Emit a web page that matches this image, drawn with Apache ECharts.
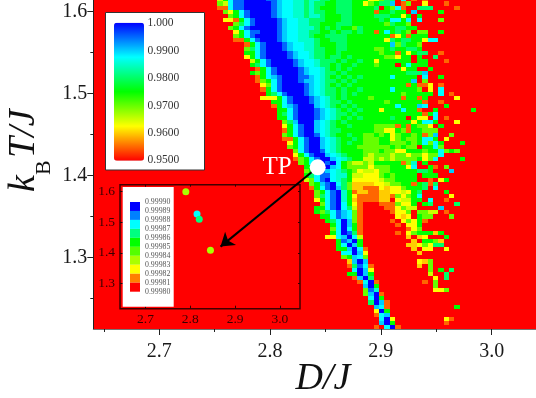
<!DOCTYPE html>
<html><head><meta charset="utf-8">
<style>html,body{margin:0;padding:0;background:#fff}#c{width:536px;height:398px}</style>
<script src="https://cdn.jsdelivr.net/npm/echarts@6/dist/echarts.min.js"></script>
</head><body><div id="c"></div>
<script>
const SERIF = '"Liberation Serif","Times New Roman",serif';
// heat rows from T=1.615 downward; each char is a colour reading of one cell
const firstT = 1.615, rowStep = 0.005, firstD = 2.7402, colStep = 0.004865;
const levelValues = {0:.95,1:.955,2:.96,y:.9625,3:.965,4:.97,5:.975,6:.98,7:.985,c:.9875,8:.99,9:.995,a:1};
const heatRows = [
"00035c99aa aa998cc776 7766566655 5yy4660c01 0100000000",
"00043c99aa aaa98cc776 7665566655 y456680140 0y00010000",
"00011c99aa aaa98cc776 7655566655 556054c100 6660000100",
"00004y5c9a aaa98cc776 7665566655 5515565508 0000500000",
"0000045c9a aaa98cc776 7765556655 5566655y50 5000000000",
"0000yy15c9 aaaa98cc77 6665556655 55565cc5c0 c000400000",
"00000046c9 aaaa98cc77 6655566655 5555465540 0000000000",
"0000045c9a aaaa98cc77 7656565546 5555556655 0000000000",
"000000y5c9 9aaa98cc77 6655656656 5515c56540 4400500000",
"00000045c9 aaaa98cc77 6556666555 555551y515 5500000000",
"000000115c 9aaa98cc77 7655666555 5555y65665 5ycc000000",
"0000000015 c9aaa98cc7 7655566555 5555584655 4000000000",
"0000000046 c9aaa98cc7 7665566555 5544565566 5000000000",
"0000000055 c9aaaa98cc 7665565555 55545515y5 6600100000",
"00000000y5 c9aaaa98cc 7665665655 555544y550 5006000000",
"0000000003 5c9aaaa98c c766656556 55y5555550 5500010000",
"0000000005 6c9aaaa98c c766565565 55455505c5 5500000000",
"0000000000 15c9aaaa98 cc76565655 5555555y55 0050000000",
"0000000005 45c9aaaa98 cc76656555 5555555566 6800000000",
"0000000000 15c89aaa99 8c76565656 55555c5555 0c00500000",
"0000000000 145c9aaa98 8c76656565 5555555558 0400000000",
"0000000000 0y4c9aaaa9 8c76565655 5555555515 11y0100000",
"0000000000 015c9aaaa9 8c76656556 55555c5555 40y0c00000",
"0000000000 0056c9aaa9 8c76656565 5555555455 5550c01000",
"0000000000 0yyy5c9aaa 98c7656555 5455555155 1500000y00",
"0000000000 00055c9aaa 98c7665655 5555455555 5100100000",
"0000000000 00015c89aa a8c7656565 555555c555 8c00050000",
"0000000000 000055c9aa a98c765656 555y555c55 1005000000 5",
"0000000000 000056c9aa a98c766565 5555555555 515c000000",
"0000000000 000055c9aa a98c765656 5555565505 yy0c010000",
"0000000000 00000468aa a8c7656555 555555555y 5cc5000y00",
"0000000000 00000y5c9a a8c7655655 5544441515 44y0500000",
"0000000000 0000015c9a a8c7665555 5544yy5415 5444000000",
"0000000000 0000045c9a a9c7655655 44545y4554 5148004000",
"0000000000 00000115c9 aa8c765565 44455y4544 5cc50y0000",
"0000000000 000000y5c9 aa8c765655 4445544454 5c4c500050",
"0000000000 00000045c9 aa8c765554 4444454544 055c400000",
"0000000000 00000004c9 aa9c765555 444544yy55 5455c45400",
"0000000000 0000000y5c 9aa8c76555 43444344y4 4y44c00000",
"0000000000 0000000145 c9aa8c7655 3343434444 5y4c000050",
"0000000000 0000000045 c9a9ac5433 4355555147 0500000000",
"0000000000 0000000005 5c9a8c5444 4y444555yc 0051040000",
"0000000000 0000000004 5898c7654y 33y4455555 6650008000",
"0000000000 0000000005 6c99c77533 yyy4545555 0555000000",
"0000000000 0000000003 4c9ac765yy yyy3445555 0010y50000",
"0000000000 0000000000 4589ac6422 22yy344551 5616000000",
"0000000000 0000000000 15c9a86422 111y2yy455 560c000000",
"0000000000 0000000000 045c9a7512 21122yy3y5 6000050000",
"0000000000 0000000000 046c9a75y1 1112214y45 c00000y000",
"0000000000 0000000000 0y5c9a7521 111220y335 50c0010000",
"0000000000 0000000000 004c9ac5y1 0001114yy5 0560000600",
"0000000000 0000000000 055c9ac631 000011y433 0000800000",
"0000000000 0000000000 0546c98c41 000001yy40 4433010000",
"0000000000 0000000000 0055c98c41 000000y2y0 5440004000",
"0000000000 0000000000 00056ca841 0000010y4y 5100000000",
"0000000000 0000000000 00005ca851 00000010yy 5000000000",
"0000000000 0000000000 00004cac51 000000001y 4000000000",
"0000000000 0000000000 00005ca961 00000010y4 5552500000",
"0000000000 0000000000 000yyc8ac3 0000000020 2y00050000",
"0000000000 0000000000 00000598a5 0000000002 0554200000",
"0000000000 0000000000 000005ca85 0000000022 y4y6600000",
"0000000000 0000000000 00000558ac 1000000002 0yy00y0000",
"0000000000 0000000000 000000cca8 y000000000 2000000000",
"0000000000 0000000000 000000458c 4000000000 0000000000",
"0000000000 0000000000 000000028a 8000000000 y240000000",
"0000000000 0000000000 0000000169 c100000000 2040000000",
"0000000000 0000000000 00000000ca 8y00000000 0040506000",
"0000000000 0000000000 000000055a 8500000000 0030060000",
"0000000000 0000000000 0000000018 a600000000 000y060000",
"0000000000 0000000000 0000000001 ca10000000 0104000000",
"0000000000 0000000000 0000000000 8a50000000 0004000000",
"0000000000 0000000000 0000000000 4970000000 000yy40000",
"0000000000 0000000000 0000000000 48a1000000",
"0000000000 0000000000 0000000000 0ca5000000",
"0000000000 0000000000 0000000000 06a8100000",
"0000000000 0000000000 0000000000 008c100000 0000000500",
"0000000000 0000000000 0000000000 00ya500000",
"0000000000 0000000000 0000000000 001c800000",
"0000000000 0000000000 0000000000 000cay0000 00000y1000",
"0000000000 0000000000 0000000000 0008a50000 0000010000",
"0000000000 0000000000 0000000000 0010ca1000"
];
const xMajor = [2.7,2.8,2.9,3.0], xMinor = [2.65,2.75,2.85,2.95,3.05];
const yMajor = [1.3,1.4,1.5,1.6], yMinor = [1.25,1.35,1.45,1.55];
const rampColors = ['#ff0000','#ffff00','#00ff00','#00ffff','#0000ff'];
const legendLabels = ['1.000','0.9900','0.9800','0.9700','0.9600','0.9500'];
const tpPoint = [2.843,1.41];
const arrowTip = [2.7553,1.3132];
const insetPoints = [[2.79,1.6,'#aaff00'],[2.815,1.527,'#00ffff'],[2.82,1.51,'#00ff80'],[2.845,1.408,'#aaff00']];
const insetLegendLabels = ['0.99990','0.99989','0.99988','0.99987','0.99986','0.99985','0.99984','0.99983','0.99982','0.99981','0.99980'];
const insetLegendColors = ['#0000ff','#0080ff','#00ffff','#00ff80','#00ff00','#55ff00','#aaff00','#ffff00','#ff8000','#ff0000'];

const cells = [];
heatRows.forEach((row,r)=>{
  row.replace(/ /g,'').split('').forEach((ch,p)=>{
    if(ch!=='0') cells.push([firstD+colStep*p, firstT-rowStep*r, levelValues[ch]]);
  });
});
const chart = echarts.init(document.getElementById('c'),null,{renderer:'canvas'});
const tickLabel = {fontFamily:SERIF,fontSize:20,color:'#1a1a1a'};
const insetLabel = {fontFamily:SERIF,fontSize:13.5,color:'#3a0000'};
const gfx = [];
gfx.push({type:'rect',z:3,shape:{x:105.5,y:12.5,width:99,height:157.5},style:{fill:'#fff',stroke:'#333',lineWidth:1}});
legendLabels.forEach((t,i)=>gfx.push({type:'text',z:5,x:147.5,y:23.3+i*27.4,style:{text:t,font:'11.5px '+SERIF,fill:'#333',verticalAlign:'middle'}}));
gfx.push({type:'rect',z:3,shape:{x:122.7,y:187,width:51,height:119.7},style:{fill:'#fff'}});
insetLegendColors.forEach((c,i)=>gfx.push({type:'rect',z:4,shape:{x:130,y:202+i*8.97,width:10,height:8.97},style:{fill:c}}));
insetLegendLabels.forEach((t,i)=>gfx.push({type:'text',z:5,x:145,y:202+i*8.97,style:{text:t,font:'7.8px '+SERIF,fill:'#555',verticalAlign:'middle'}}));
const titleItalic = (t,x,y)=>({type:'text',z:5,x:x,y:y,rotation:Math.PI/2,style:{text:t,font:'italic 38px '+SERIF,fill:'#111',align:'left',verticalAlign:'middle'}});
gfx.push(titleItalic('k',24,192));
gfx.push({type:'text',z:5,x:44,y:175,rotation:Math.PI/2,style:{text:'B',font:'22px '+SERIF,fill:'#111',align:'left',verticalAlign:'middle'}});
gfx.push(titleItalic('T/J',24,158));
gfx.push({type:'text',z:5,x:323,y:379,style:{text:'D/J',font:'italic 38px '+SERIF,fill:'#111',align:'center',verticalAlign:'middle'}});

const mainX={min:2.6405,max:3.04}, mainY={min:1.2126,max:1.6143};
const insX={min:2.643,max:3.045}, insY={min:1.217,max:1.623};
const inTick=(vals,len)=>({show:true,inside:true,length:len,customValues:vals,lineStyle:{color:'#300',width:1}});
chart.setOption({
  animation:false,
  backgroundColor:'#fff',
  graphic:{elements:gfx},
  grid:[
    {left:93.3,top:0,right:0,height:329,show:true,backgroundColor:'#ff0000',borderWidth:0},
    {left:120,top:184.7,width:180,height:124,show:true,backgroundColor:'#ff0000',borderColor:'#400000',borderWidth:1.5}
  ],
  visualMap:{type:'continuous',seriesIndex:0,dimension:2,min:0.95,max:1,left:114,top:22.7,itemWidth:30,itemHeight:138,calculable:false,realtime:false,text:null,showLabel:false,
    inRange:{color:rampColors.slice()},textStyle:{fontSize:0,color:'transparent'},padding:0,z:4,hoverLink:false},
  xAxis:[
    Object.assign({type:'value',gridIndex:0,position:'bottom',splitLine:{show:false},axisLine:{show:true,onZero:false,lineStyle:{color:'#777',width:1}},
      axisTick:{show:true,length:6,customValues:xMajor,lineStyle:{color:'#222'}},axisLabel:Object.assign({customValues:xMajor,margin:13,formatter:v=>v.toFixed(1)},tickLabel)},mainX),
    Object.assign({type:'value',gridIndex:0,position:'bottom',splitLine:{show:false},axisLine:{show:false,onZero:false},
      axisTick:{show:true,length:3,customValues:xMinor,lineStyle:{color:'#222'}},axisLabel:{show:false}},mainX),
    Object.assign({type:'value',gridIndex:1,position:'bottom',splitLine:{show:false},axisLine:{show:false,onZero:false},
      axisTick:inTick(xMajor,3),axisLabel:Object.assign({customValues:xMajor,margin:4,formatter:v=>v.toFixed(1)},insetLabel)},insX),
    Object.assign({type:'value',gridIndex:1,position:'top',splitLine:{show:false},axisLine:{show:false,onZero:false},
      axisTick:inTick(xMajor,2),axisLabel:{show:false}},insX)
  ],
  yAxis:[
    Object.assign({type:'value',gridIndex:0,position:'left',splitLine:{show:false},axisLine:{show:true,onZero:false,lineStyle:{color:'#222',width:1}},
      axisTick:{show:true,length:6,customValues:yMajor,lineStyle:{color:'#222'}},axisLabel:Object.assign({customValues:yMajor,margin:6,formatter:v=>v.toFixed(1)},tickLabel)},mainY),
    Object.assign({type:'value',gridIndex:0,position:'left',splitLine:{show:false},axisLine:{show:false,onZero:false},
      axisTick:{show:true,length:3,customValues:yMinor,lineStyle:{color:'#222'}},axisLabel:{show:false}},mainY),
    Object.assign({type:'value',gridIndex:1,position:'left',splitLine:{show:false},axisLine:{show:false,onZero:false},
      axisTick:inTick(yMajor,3),axisLabel:Object.assign({customValues:yMajor,margin:5,formatter:v=>v.toFixed(1)},insetLabel)},insY),
    Object.assign({type:'value',gridIndex:1,position:'right',splitLine:{show:false},axisLine:{show:false,onZero:false},
      axisTick:inTick(yMajor,2),axisLabel:{show:false}},insY)
  ],
  series:[
    {type:'custom',coordinateSystem:'cartesian2d',xAxisIndex:0,yAxisIndex:0,data:cells,encode:{x:0,y:1},clip:true,z:2,silent:true,
      renderItem:(params,api)=>{
        const p=api.coord([api.value(0),api.value(1)]);
        const s=api.size([colStep,rowStep]);
        const x0=Math.round(p[0]-s[0]/2), x1=Math.round(p[0]+s[0]/2), y0=Math.round(p[1]-s[1]/2), y1=Math.round(p[1]+s[1]/2);
        return {type:'rect',shape:{x:x0,y:y0,width:x1-x0,height:y1-y0},style:{fill:api.visual('color')}};
      }},
    {type:'scatter',xAxisIndex:2,yAxisIndex:2,data:insetPoints.map(d=>({value:[d[0],d[1]],itemStyle:{color:d[2],opacity:1}})),symbolSize:7,z:3,silent:true},
    {type:'lines',coordinateSystem:'cartesian2d',xAxisIndex:0,yAxisIndex:0,z:6,silent:true,symbol:['none','arrow'],symbolSize:13,
      lineStyle:{color:'#000',width:2,opacity:1,curveness:0},data:[{coords:[tpPoint,arrowTip]}]},
    {type:'scatter',xAxisIndex:0,yAxisIndex:0,z:7,silent:true,data:[tpPoint],symbolSize:16,itemStyle:{color:'#fff',opacity:1},
      label:{show:true,position:'left',distance:18,formatter:'TP',fontFamily:SERIF,fontSize:25,color:'#fff'}}
  ]
});
</script></body></html>
